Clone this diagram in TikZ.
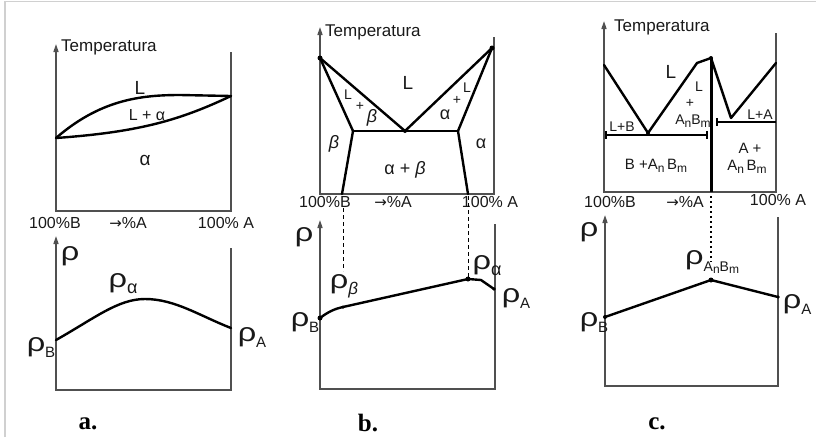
\documentclass[tikz,border=0pt]{standalone}
\usepackage{fontspec}
\setmainfont{Liberation Sans}
\newfontfamily\serifbold{Liberation Serif}
\newfontfamily\arrowfont{DejaVu Sans}
\usetikzlibrary{arrows.meta}
\definecolor{axisgray}{HTML}{505050}
\definecolor{framegray}{HTML}{D0D0D0}
\newcommand{\fs}[1]{\fontsize{#1}{#1}\selectfont}
\newcommand{\bigrho}{\scalebox{1.25}[1]{\fs{26}ρ}}
\newcommand{\rhosub}[1]{\bigrho\raisebox{-6pt}{\fs{15}#1}}
\newcommand{\rhoalpha}{\bigrho\raisebox{-6pt}{\fs{18}α}}
\newcommand{\sbl}[1]{\raisebox{-3pt}{\fs{12}#1}}
\newcommand{\AnBm}{A\sbl{n}B\sbl{m}}
\newcommand{\toA}{{\arrowfont\fs{15}→}\%A}
\tikzset{
  axisline/.style={draw=axisgray, line width=1.5pt, line join=miter},
  axisarrow/.style={axisline, {Triangle[length=8pt,width=5pt]}-},
  phase/.style={draw=black, line width=2.4pt, line join=round, line cap=round},
  lbl/.style={inner sep=0pt, text=black!90, font=\fs{16}},
  biglbl/.style={inner sep=0pt, text=black!90, font=\fs{19}},
  smalllbl/.style={inner sep=0pt, text=black!90, font=\fs{14}},
  rholbl/.style={inner sep=0pt, text=black!90},
  panellbl/.style={inner sep=0pt, font=\serifbold\bfseries\fs{25}},
  guide/.style={draw=black, line width=1pt, dash pattern=on 4pt off 3pt},
  dotguide/.style={draw=black, line width=1.2pt, dash pattern=on 2pt off 3pt},
  pt/.style={fill=black, circle, inner sep=0pt, minimum size=5pt}
}
\begin{document}
\begin{tikzpicture}[x=1pt,y=-1pt]
\useasboundingbox (0,0) rectangle (816,437);
% frame
\draw[framegray, line width=1.2pt] (5,437) -- (5,1.5) -- (816,1.5);

% ================= Panel a =================
% upper
\draw[axisarrow] (56,44) -- (56,211) -- (231,211) -- (231,52);
\coordinate (aB) at (56,138);
\coordinate (aA) at (231,96);
\draw[phase] (aB) .. controls (100,100) and (140,95) .. (180,95) -- (aA);
\draw[phase] (aB) .. controls (140,132) and (180,120) .. (aA);
\node[anchor=west, lbl, font=\fs{17}] (aT) at (61,47) {Temperatura};
\node[biglbl] (aL) at (140,88) {L};
\node[lbl] (aLa) at (147,115) {L + α};
\node[biglbl] (aAl) at (145,160) {α};
\node[lbl] (ab1) at (55,223) {100\%B};
\node[lbl] (ab2) at (128,223) {\toA};
\node[lbl] (ab3) at (226,223) {100\% A};
% lower
\draw[axisarrow] (56,236) -- (56,390) -- (231,390) -- (231,248);
\draw[phase] (56,340) .. controls (95,318) and (118,299) .. (145,299) .. controls (175,299) and (200,316) .. (231,328);
\node[rholbl] (ar) at (70,256) {\bigrho};
\node[rholbl] (ara) at (123,284) {\rhoalpha};
\node[rholbl] (arB) at (41,347) {\rhosub{B}};
\node[rholbl] (arA) at (252,337) {\rhosub{A}};
\node[panellbl] (pa) at (88,424) {a.};

% ================= Panel b =================
\draw[axisarrow] (320,27) -- (320,194) -- (494,194) -- (494,37);
\coordinate (bTB) at (320,58);
\coordinate (bTA) at (492,48);
\coordinate (bE) at (405,131);
\coordinate (bS1) at (353,131);
\coordinate (bS2) at (458,131);
\draw[phase] (bTB) -- (bE) -- (bTA);
\draw[phase] (bTB) -- (bS1) -- (342,194);
\draw[phase] (bTA) -- (bS2) -- (468,194);
\draw[phase] (bS1) -- (bS2);
\node[pt] at (bTB) {};
\node[pt] at (bTA) {};
\node[pt, minimum size=4pt] at (bE) {};
\node[anchor=west, lbl, font=\fs{17}] (bT) at (325,32) {Temperatura};
\node[biglbl] (bL) at (408,83) {L};
\node[smalllbl] (bL1) at (348,95) {L};
\node[smalllbl] (bP1) at (360,106) {+};
\node[biglbl, font=\fs{18}\itshape] (bB1) at (372,118) {β};
\node[biglbl, font=\fs{18}] (bA1) at (445,115) {α};
\node[smalllbl] (bP2) at (457,100) {+};
\node[smalllbl] (bL2) at (467,88) {L};
\node[biglbl, font=\fs{18}\itshape] (bB2) at (334,144) {β};
\node[biglbl, font=\fs{18}] (bA2) at (481,144) {α};
\node[lbl, font=\fs{18}] (bAB) at (405,170) {α + \textit{β}};
\node[lbl] (bb1) at (325,202) {100\%B};
\node[lbl] (bb2) at (393,202) {\toA};
\node[lbl] (bb3) at (490,202) {100\% A};
\draw[guide] (343,208) -- (343,271);
\draw[guide] (468,196) -- (468,277);
% lower
\draw[axisarrow] (320,220) -- (320,389) -- (495,389) -- (495,224);
\coordinate (bp0) at (320,318);
\coordinate (bp1) at (343,307);
\coordinate (bp2) at (468,279);
\coordinate (bp3) at (494,289);
\draw[phase] (bp0) .. controls (328,312) and (334,309) .. (bp1) -- (bp2) -- (481,280) -- (bp3);
\node[pt] at (bp0) {};
\node[pt, minimum size=3.5pt] at (bp1) {};
\node[pt] at (bp2) {};
\node[pt, minimum size=3.5pt] at (bp3) {};
\node[rholbl] (br) at (304,237) {\bigrho};
\node[rholbl] (brb) at (344,286) {\bigrho\raisebox{-6pt}{\fs{17}\itshape β}};
\node[rholbl] (bra) at (487,266) {\rhoalpha};
\node[rholbl] (brB) at (305,322) {\rhosub{B}};
\node[rholbl] (brA) at (516,298) {\rhosub{A}};
\node[panellbl] (pb) at (368,423) {b.};

% ================= Panel c =================
\draw[axisarrow] (604,21) -- (604,192) -- (776,192) -- (776,33);
\coordinate (cTB) at (604,65);
\coordinate (cE1) at (648,133);
\coordinate (cM) at (711,58);
\coordinate (cE2) at (731,118);
\coordinate (cTA) at (776,63);
\draw[phase] (cTB) -- (cE1) -- (697,63) -- (cM) -- (cE2) -- (cTA);
\draw[phase, line width=3pt, line cap=butt] (cM) -- (711,192);
\draw[phase, line width=2pt, line cap=butt] (606,135) -- (707,135);
\draw[phase, line width=1.2pt, line cap=butt] (606,131) -- (606,139) (707,131) -- (707,139);
\draw[phase, line width=2pt, line cap=butt] (717,122) -- (776,122);
\draw[phase, line width=1.2pt, line cap=butt] (717,118) -- (717,126);
\node[pt, minimum size=4pt] at (cE1) {};
\node[pt, minimum size=4pt] at (cM) {};
\node[anchor=west, lbl, font=\fs{17}] (cT) at (614,27) {Temperatura};
\node[biglbl] (cL) at (671,72) {L};
\node[smalllbl] (cL1) at (699,87) {L};
\node[smalllbl] (cP1) at (690,103) {+};
\node[smalllbl] (cAB1) at (693,121) {\AnBm};
\node[smalllbl] (cLB) at (622,127) {L+B};
\node[smalllbl] (cLA) at (760,115) {L+A};
\node[lbl, font=\fs{15}] (cBAB) at (656,166) {B +A\sbl{n}\,B\sbl{m}};
\node[lbl, font=\fs{15}] (cAp) at (750,148) {A +};
\node[lbl, font=\fs{15}] (cAB2) at (747,167) {A\sbl{n}\,B\sbl{m}};
\node[lbl] (cb1) at (610,202) {100\%B};
\node[lbl] (cb2) at (685,202) {\toA};
\node[lbl] (cb3) at (778,200) {100\% A};
\draw[dotguide] (711,196) -- (711,262);
% lower
\draw[axisarrow] (605,215) -- (605,386) -- (778,386) -- (778,217);
\coordinate (cp0) at (605,317);
\coordinate (cp1) at (711,280);
\coordinate (cp2) at (778,297);
\draw[phase] (cp0) -- (cp1) -- (cp2);
\node[pt, minimum size=4pt] at (cp0) {};
\node[pt] at (cp1) {};
\node[pt, minimum size=3.5pt] at (cp2) {};
\node[rholbl] (cr) at (589,232) {\bigrho};
\node[rholbl, anchor=west] (crAB) at (685,262) {\bigrho\raisebox{-7pt}{\fs{14}A\raisebox{-2pt}{\fs{12}n}B\raisebox{-2pt}{\fs{12}m}}};
\node[rholbl] (crB) at (594,322) {\rhosub{B}};
\node[rholbl] (crA) at (797,304) {\rhosub{A}};
\node[panellbl] (pc) at (657,424) {c.};
\end{tikzpicture}
\end{document}
